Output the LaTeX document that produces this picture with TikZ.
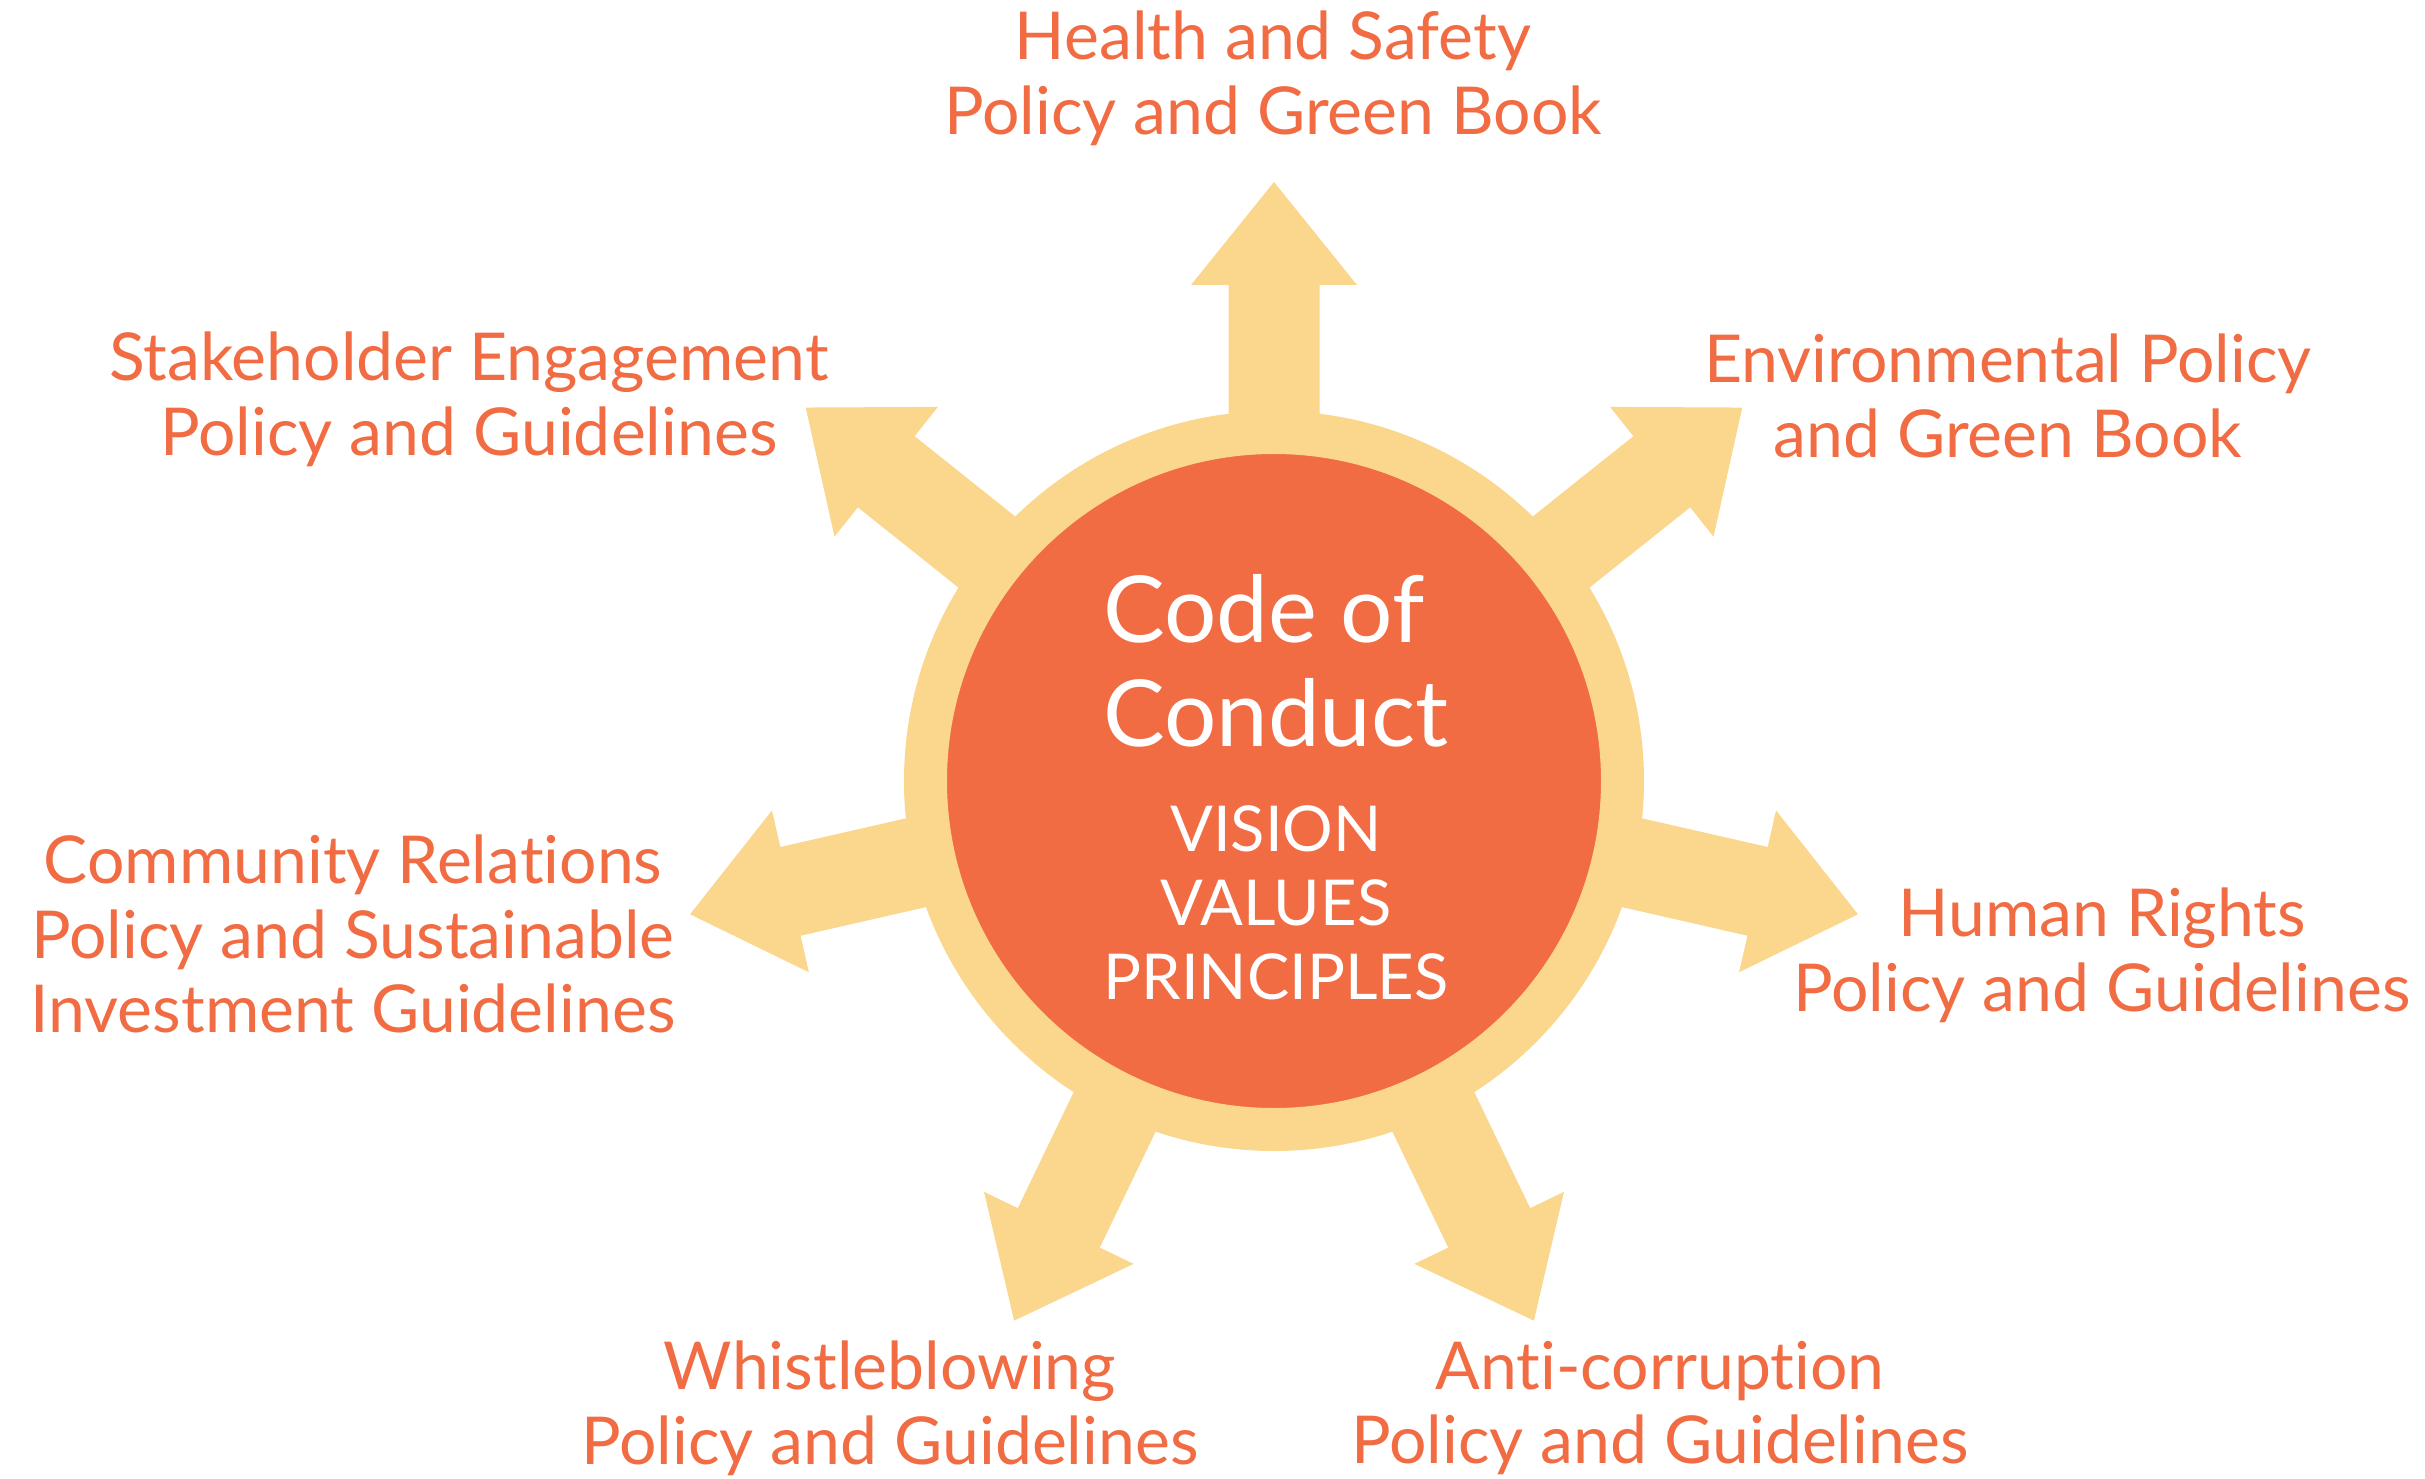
\documentclass[tikz,border=0pt]{standalone}
\usepackage{fontspec}
\setmainfont{Lato}[Ligatures={NoCommon}]
\usetikzlibrary{positioning}
\definecolor{cocorange}{HTML}{F16B43}
\definecolor{cocsand}{HTML}{FBD68D}

\tikzset{
  policy/.style={text=cocorange, align=center, font=\fontsize{18.8}{21.3}\selectfont},
  spoke/.style={fill=cocsand},
  core/.style={circle, fill=cocorange, draw=cocsand, line width=0.43cm, minimum size=6.97cm, inner sep=0pt},
}

\begin{document}
\begin{tikzpicture}
\useasboundingbox (-12.74,-6.97) rectangle (11.51,7.81);

% seven arrows behind the circle
\foreach \k in {0,...,6}
  \fill[spoke, rotate=90-\k*360/7] (0,-0.455) -- (4.96,-0.455) -- (4.96,-0.83) -- (5.99,0)
    -- (4.96,0.83) -- (4.96,0.455) -- (0,0.455) -- cycle;

\node[core] (code) at (0,0) {};
\node[text=white, align=left, font=\fontsize{26.3}{29.5}\selectfont] (title) at (0.02,1.20) {Code of\\Conduct};
\node[text=white, align=center, font=\fontsize{18}{21}\selectfont] (vvp) at (0.02,-1.22) {VISION\\VALUES\\PRINCIPLES};

\node[policy] (health) at (-0.01,7.03) {Health and Safety\\Policy and Green Book};
\node[policy] (envir) at (7.34,3.85) {Environmental Policy\\and Green Book};
\node[policy] (human) at (8.28,-1.74) {Human Rights\\Policy and Guidelines};
\node[policy] (anti) at (3.86,-6.27) {Anti-corruption\\Policy and Guidelines};
\node[policy] (whistle) at (-3.84,-6.27) {Whistleblowing\\Policy and Guidelines};
\node[policy] (commun) at (-9.21,-1.53) {Community Relations\\Policy and Sustainable\\Investment Guidelines};
\node[policy] (stake) at (-8.05,3.82) {Stakeholder Engagement\\Policy and Guidelines};
\end{tikzpicture}
\end{document}
